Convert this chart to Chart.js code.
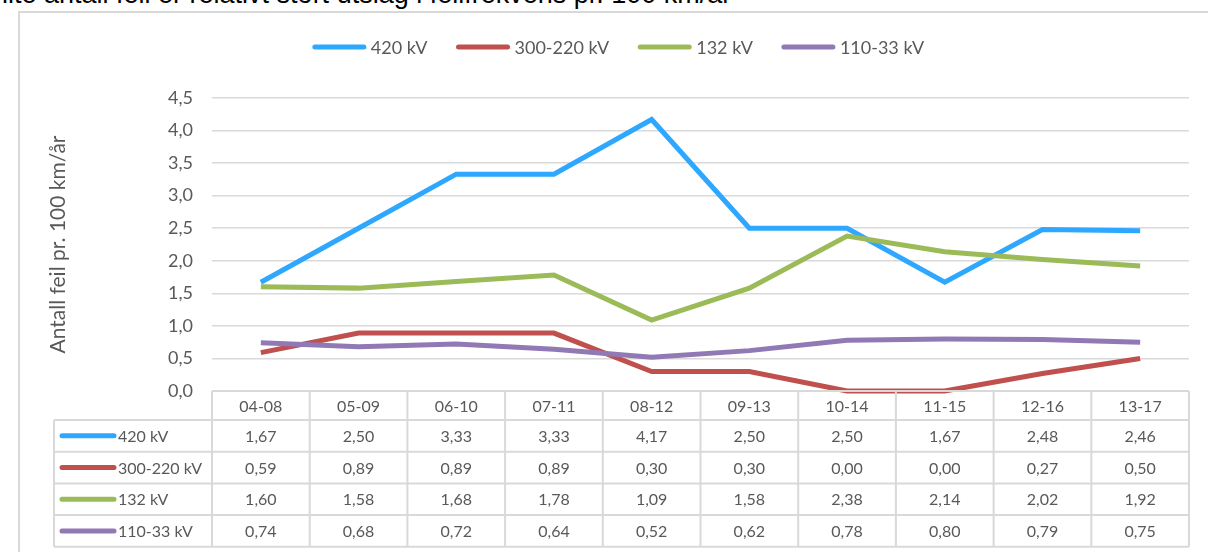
<!DOCTYPE html>
<html>
<head>
<meta charset="utf-8">
<script src="https://cdn.jsdelivr.net/npm/chart.js@4/dist/chart.umd.min.js"></script>
<style>
  html, body { margin: 0; padding: 0; background: #fff; }
  body { width: 1208px; height: 552px; position: relative; overflow: hidden; }
  #topline {
    position: absolute; left: 2px; top: -19px;
    font-family: "Liberation Sans", Arial, sans-serif; font-size: 27px; line-height: 27px; color: #000;
    white-space: nowrap;
  }
  #frame {
    position: absolute; left: 18px; top: 11px; width: 1200px; height: 560px;
    border: 2px solid #d9d9d9; box-sizing: border-box;
  }
  #wrap { position: absolute; left: 0; top: 0; width: 1208px; height: 552px; }
</style>
</head>
<body>
<div id="topline">lite antall feil er relativt stort utslag i feilfrekvens pr. 100 km/år</div>
<div id="frame"></div>
<div id="wrap"><canvas id="chart"></canvas></div>
<script>
// periods and fault rates (faults per 100 km per year)
const periods = ['04-08', '05-09', '06-10', '07-11', '08-12', '09-13', '10-14', '11-15', '12-16', '13-17'];
const seriesNames = ['420 kV', '300-220 kV', '132 kV', '110-33 kV'];
const kv420 = [1.67, 2.50, 3.33, 3.33, 4.17, 2.50, 2.50, 1.67, 2.48, 2.46];
const kv300 = [0.59, 0.89, 0.89, 0.89, 0.30, 0.30, 0.00, 0.00, 0.27, 0.50];
const kv132 = [1.60, 1.58, 1.68, 1.78, 1.09, 1.58, 2.38, 2.14, 2.02, 1.92];
const kv110 = [0.74, 0.68, 0.72, 0.64, 0.52, 0.62, 0.78, 0.80, 0.79, 0.75];
const colors = ['#2ea8ff', '#c0504d', '#9bbb59', '#9179b5'];

const textColor = '#595959';
const gridColor = '#d9d9d9';
const font = 'Lato, "Open Sans", sans-serif';

const fmt = v => v.toFixed(2).replace('.', ',');

// legend at the top, drawn by hand so the line swatches look like Excel's
const topLegend = {
  id: 'topLegend',
  afterDraw(chart) {
    const ctx = chart.ctx;
    ctx.save();
    ctx.font = '18px ' + font;
    const lineW = 55, gap = 4, spacing = 28;
    const widths = chart.data.datasets.map(ds => lineW + gap + ctx.measureText(ds.label).width);
    const total = widths.reduce((a, b) => a + b, 0) + spacing * (widths.length - 1);
    let x = 618 - total / 2;
    const y = 47;
    chart.data.datasets.forEach((ds, i) => {
      ctx.strokeStyle = ds.borderColor;
      ctx.lineWidth = 5;
      ctx.lineCap = 'round';
      ctx.beginPath();
      ctx.moveTo(x + 3, y);
      ctx.lineTo(x + lineW - 3, y);
      ctx.stroke();
      ctx.fillStyle = textColor;
      ctx.textBaseline = 'middle';
      ctx.textAlign = 'left';
      ctx.fillText(ds.label, x + lineW + gap, y + 1);
      x += widths[i] + spacing;
    });
    ctx.restore();
  }
};

// data table under the plot, columns follow the x scale
const dataTable = {
  id: 'dataTable',
  afterDraw(chart) {
    const ctx = chart.ctx;
    const xs = chart.scales.x;
    const area = chart.chartArea;
    const colW = (area.right - area.left) / periods.length;
    const top = area.bottom;
    const headH = 29, rowH = 31.7;
    const legendLeft = 54;
    ctx.save();
    ctx.strokeStyle = gridColor;
    ctx.lineWidth = 2;

    // horizontal lines
    ctx.beginPath();
    ctx.moveTo(area.left, top);
    ctx.lineTo(area.right, top);
    for (let r = 0; r <= seriesNames.length; r++) {
      const y = top + headH + r * rowH;
      ctx.moveTo(legendLeft, y);
      ctx.lineTo(area.right, y);
    }
    // vertical lines
    const bottom = top + headH + seriesNames.length * rowH;
    ctx.moveTo(legendLeft, top + headH);
    ctx.lineTo(legendLeft, bottom);
    for (let c = 0; c <= periods.length; c++) {
      const x = area.left + c * colW;
      ctx.moveTo(x, top);
      ctx.lineTo(x, bottom);
    }
    ctx.stroke();

    ctx.font = '16px ' + font;
    ctx.fillStyle = textColor;
    ctx.textBaseline = 'middle';
    ctx.textAlign = 'center';
    periods.forEach((p, i) => {
      ctx.fillText(p, xs.getPixelForValue(i), top + headH / 2 + 1);
    });

    chart.data.datasets.forEach((ds, r) => {
      const cy = top + headH + r * rowH + rowH / 2;
      ctx.strokeStyle = ds.borderColor;
      ctx.lineWidth = 5;
      ctx.lineCap = 'round';
      ctx.beginPath();
      ctx.moveTo(62, cy);
      ctx.lineTo(114, cy);
      ctx.stroke();
      ctx.fillStyle = textColor;
      ctx.textAlign = 'left';
      ctx.fillText(ds.label, 118, cy + 1);
      ctx.textAlign = 'center';
      ds.data.forEach((v, i) => {
        ctx.fillText(fmt(v), xs.getPixelForValue(i), cy + 1);
      });
    });
    ctx.restore();
  }
};

const values = [kv420, kv300, kv132, kv110];

new Chart(document.getElementById('chart'), {
  type: 'line',
  data: {
    labels: periods,
    datasets: seriesNames.map((name, i) => ({
      label: name,
      data: values[i],
      borderColor: colors[i],
      backgroundColor: colors[i],
      borderWidth: 5,
      pointRadius: 0,
      tension: 0,
      clip: false,
      order: seriesNames.length - i
    }))
  },
  options: {
    responsive: true,
    maintainAspectRatio: false,
    animation: false,
    layout: { padding: { left: 0, right: 19, top: 98, bottom: 161 } },
    plugins: {
      legend: { display: false },
      tooltip: { enabled: false }
    },
    scales: {
      x: {
        display: false,
        offset: true
      },
      y: {
        min: 0,
        max: 4.5,
        afterFit: scale => { scale.width = 212; },
        ticks: {
          stepSize: 0.5,
          padding: 19,
          color: textColor,
          font: { family: font, size: 18 },
          callback: v => v.toFixed(1).replace('.', ',')
        },
        grid: {
          color: ctx => ctx.tick.value === 0 ? 'rgba(0,0,0,0)' : gridColor,
          lineWidth: 1.5,
          drawTicks: false
        },
        border: { display: false },
        title: {
          display: true,
          text: 'Antall feil pr. 100 km/år',
          color: textColor,
          font: { family: font, size: 21 },
          padding: { top: 46, bottom: 0 }
        }
      }
    }
  },
  plugins: [topLegend, dataTable]
});
</script>
</body>
</html>
